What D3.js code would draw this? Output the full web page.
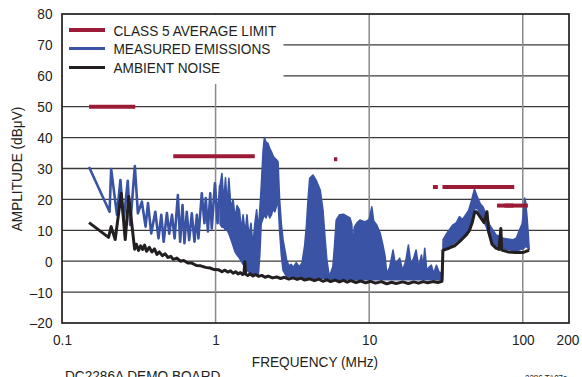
<!DOCTYPE html>
<html><head><meta charset="utf-8">
<script src="https://cdn.jsdelivr.net/npm/d3@7"></script>
<style>
html,body{margin:0;padding:0;background:#fff;}
svg{display:block;}
text{font-family:"Liberation Sans",Arial,sans-serif;fill:#231f20;}
</style></head><body>
<svg id="c" width="582" height="377"></svg>
<script>
// ---------- data ----------
const xTicks = [0.1, 1, 10, 100, 200];
const yTicks = [-20, -10, 0, 10, 20, 30, 40, 50, 60, 70, 80];
const xGrid = [1, 10, 100];
const legendLabels = ["CLASS 5 AVERAGE LIMIT", "MEASURED EMISSIONS", "AMBIENT NOISE"];

// Class 5 average limit segments (MHz, dBµV)
const limitStart = [0.15, 0.53, 5.9, 26, 30, 41, 68, 76];
const limitEnd   = [0.3, 1.8, 6.2, 28, 54, 88, 87, 108];
const limitVal   = [50, 34, 33, 24, 24, 24, 18, 18];

// Measured emissions, low-frequency trace (MHz, dBµV)
const emisLowFreq = [0.15,0.204,0.209,0.228,0.24,0.252,0.268,0.278,0.298,0.312,0.331,0.35,0.363,0.381,0.405,0.425,0.443,0.459,0.482,0.499,0.52,0.541,0.568,0.588,0.609,0.627,0.649,0.673,0.70,0.729,0.755,0.773,0.813,0.846,0.863,0.891,0.923,0.944,0.99,1.03,1.07];
const emisLowVal  = [30.5,16,29.8,15,26.3,13.3,26,11.7,30.8,15.5,19.3,11.2,18.8,9,16,7.4,15,6.3,15.6,8.9,15,7.4,21.4,6.3,18.2,5.8,16,6.8,15.5,6.3,15,7.4,22,12.3,20.4,9.6,22,10.6,25.2,12.3,24.6];

// Measured emissions, dense band above 1 MHz: frequency, upper and lower envelope
const bandFreq = [1.07,1.10,1.13,1.16,1.19,1.22,1.26,1.30,1.34,1.38,1.43,1.47,1.51,1.56,1.60,1.65,1.70,1.75,1.80,1.85,1.90,1.94,1.98,2.04,2.08,2.13,2.19,2.25,2.31,2.37,2.43,2.50,2.55,2.61,2.68,2.75,2.90,3.0,3.1,3.2,3.35,3.5,3.65,3.8,3.9,4.0,4.1,4.3,4.5,4.8,5.0,5.15,5.3,5.5,5.8,5.95,6.1,6.4,6.8,7.2,7.5,7.7,7.85,8.0,8.3,8.7,9.4,10,10.4,10.7,11.2,11.8,12.3,12.7,13.0,13.6,14.3,14.8,15.8,16.5,17.3,18.0,18.7,19.5,20.2,21,21.9,22.4,23,23.7,24.5,25.4,26.3,27.4,28.5,30.0,30.3,32,35,37,38.7,40.5,42.5,44.5,46.5,48.5,50.9,53,55,58,60.8,64,67,71,74.6,80,86,91,95,99,101,103,104.5,106.5,108.5,110];
const bandHi   = [24.6,28.4,19,27,18,26.8,17,20,14,18,16.6,10,15,9,15,8,12.3,5,12,16.6,10,16.6,23.6,36,40,38.5,38.2,36.5,35.4,34,33.3,32.8,32.2,20,12,6.9,0.4,-1.5,-1,-2,-0.5,-1.8,-0.7,5,11.2,20,26.8,27.9,26.3,23,16.6,8,0.4,-5,-1.8,5,13.3,15,15.2,14.5,14,12,4,11,12.3,13.3,12.7,13.5,17.6,13,11.7,9,5,1.5,-4,-2,3.6,-1,1,-3,0,5.2,-1,1,3.6,-2,2,-2,4.2,-3,-2,-1.3,-4,-1.3,-3.5,-4,7,9,11.7,12.5,14.4,13.5,15,16.5,19.8,23.3,20.4,18.5,17.6,15,11.7,10,8.5,8,7.4,7.2,6.9,7.5,10,12,15.5,20.4,19,14.4,9,4];
const bandLo   = [12,11,11,10,10,9,7,5,3,2,1,0,-1,-2,-3,-3.5,-4,-4,-4,-4.2,-4.3,2,12,14,15,14,16,14,15,17,16,18,20,10,2,-3,-5,-5,-5.2,-5.3,-5.4,-5.4,-5.5,-5.5,-5.5,-5.5,-5.5,-5.5,-5.5,-5.5,-5.5,-5.6,-5.6,-5.8,-5.8,-5.8,-5.8,-5.9,-5.9,-6,-6,-6,-6,-6,-6,-6,-6,-6,-6,-6,-6,-6,-6,-6,-6,-6,-6,-6,-6,-6,-6,-6,-6,-6,-6,-6,-6,-6,-6,-6,-6,-6,-6,-6,-6,-6,4,4.5,5.5,6.5,7,8,9,10.5,13,17,17,15,13.5,11,8,6,5,4.5,4,3.8,3.5,3.5,3.6,4,4,4.5,5,4.5,4.2,3.8];

// Ambient noise (MHz, dBµV)
const ambFreq = [0.15,0.201,0.209,0.222,0.243,0.258,0.272,0.297,0.305,0.315,0.325,0.335,0.345,0.355,0.37,0.385,0.40,0.415,0.43,0.45,0.47,0.49,0.51,0.53,0.56,0.59,0.62,0.66,0.70,0.75,0.80,0.86,0.92,0.98,1.05,1.1,1.15,1.2,1.25,1.3,1.35,1.4,1.45,1.5,1.53,1.55,1.57,1.62,1.68,1.75,1.82,1.9,2.0,2.1,2.2,2.35,2.5,2.65,2.8,3.0,3.2,3.4,3.6,3.8,4.1,4.4,4.7,5.0,5.3,5.6,6.0,6.4,6.8,7.2,7.6,8.2,8.8,9.5,10.2,11,12,13,14,15,16.5,18,19.5,21,22.5,24,26,28,29.8,30.2,33,36,40,43,45,47,48.7,50,53,56,58.5,60,63,67,70,72,73,80,90,100,105,110];
const ambVal  = [12.5,7.7,11.2,7,22,7,20.9,3.9,5.5,3.5,5,3.8,5.2,3.2,4.5,3,4,2.2,3,1.8,2.4,1.2,1.6,0.6,1,0,0.2,-0.6,-0.6,-1.4,-1.5,-2,-2.2,-2.7,-2.8,-3.4,-2.9,-3.5,-3.1,-3.9,-3.4,-4.1,-3.7,-4.3,-4,-0.2,-4.2,-4.6,-4.1,-4.8,-4.3,-4.9,-4.6,-5.2,-4.8,-5.4,-5.1,-5.6,-5.2,-5.8,-5.4,-5.9,-5.5,-6.1,-5.7,-6.3,-5.8,-6.5,-6.0,-6.6,-6.1,-6.7,-6.2,-6.8,-6.3,-6.9,-6.4,-7,-6.5,-7.1,-6.6,-7.3,-6.8,-7.2,-6.7,-7.2,-6.7,-7.1,-6.6,-7,-6.6,-6.9,-6.5,3.5,4.2,5,7,8.6,10,12.7,16,16,14.2,12.5,16,9.5,5.5,4.2,3.8,10.6,3.6,3,2.8,2.8,3.2,3.5];

// ---------- chart ----------
const RED = "#9b1b36", BLUE = "#3a53a4", BLACK = "#231f20";
const FONT = 15.5, SQUEEZE = 0.88;
const svg = d3.select("#c");
svg.append("rect").attr("width", 582).attr("height", 377).attr("fill", "#fff");

const x = d3.scaleLog().domain([0.1, 200]).range([62, 569]);
const y = d3.scaleLinear().domain([-20, 80]).range([323, 14]);

// grid
svg.append("g").selectAll("line").data(yTicks.slice(1, -1)).join("line")
  .attr("x1", 62).attr("x2", 569).attr("y1", d => y(d)).attr("y2", d => y(d))
  .attr("stroke", "#3a3a3a").attr("stroke-width", 1.3);
svg.append("g").selectAll("line").data(xGrid).join("line")
  .attr("x1", d => x(d)).attr("x2", d => x(d)).attr("y1", 14).attr("y2", 323)
  .attr("stroke", "#8a8a8a").attr("stroke-width", 1.5);

// legend background
svg.append("rect").attr("x", 63).attr("y", 15).attr("width", 220.5).attr("height", 69).attr("fill", "#fff");

// data
svg.append("clipPath").attr("id", "clip").append("rect").attr("x", 62).attr("y", 14).attr("width", 507).attr("height", 309);
const plot = svg.append("g").attr("clip-path", "url(#clip)");

const band = bandFreq.map((f, i) => ({f, hi: bandHi[i], lo: bandLo[i]}));
plot.append("path").datum(band)
  .attr("d", d3.area().x(d => x(d.f)).y0(d => y(d.lo)).y1(d => y(d.hi)))
  .attr("fill", BLUE).attr("stroke", BLUE).attr("stroke-width", 1.6).attr("stroke-linejoin", "round");

const emisLow = emisLowFreq.map((f, i) => [f, emisLowVal[i]]);
plot.append("path").datum(emisLow)
  .attr("d", d3.line().x(d => x(d[0])).y(d => y(d[1])))
  .attr("fill", "none").attr("stroke", BLUE).attr("stroke-width", 2.6).attr("stroke-linejoin", "round");

const amb = ambFreq.map((f, i) => [f, ambVal[i]]);
plot.append("path").datum(amb)
  .attr("d", d3.line().x(d => x(d[0])).y(d => y(d[1])))
  .attr("fill", "none").attr("stroke", BLACK).attr("stroke-width", 3).attr("stroke-linejoin", "round");

// limits
plot.append("g").selectAll("line").data(limitVal).join("line")
  .attr("x1", (d, i) => x(limitStart[i])).attr("x2", (d, i) => x(limitEnd[i]))
  .attr("y1", d => y(d)).attr("y2", d => y(d))
  .attr("stroke", RED).attr("stroke-width", 4);

// border
svg.append("rect").attr("x", 62).attr("y", 14).attr("width", 507).attr("height", 309)
  .attr("fill", "none").attr("stroke", BLACK).attr("stroke-width", 1.7);

// axes labels
const xAxis = svg.append("g").attr("transform", "translate(0,323)")
  .call(d3.axisBottom(x).tickValues(xTicks).tickFormat(d => String(d)).tickSize(0).tickPadding(11));
const yAxis = svg.append("g").attr("transform", "translate(62,0)")
  .call(d3.axisLeft(y).tickValues(yTicks).tickFormat(d => d < 0 ? "\u2013" + Math.abs(d) : String(d)).tickSize(0).tickPadding(9.5));
[xAxis, yAxis].forEach(g => {
  g.select(".domain").remove();
  g.selectAll("text").attr("font-size", FONT).attr("fill", BLACK)
    .style("font-family", '"Liberation Sans",Arial,sans-serif');
});
// keep the last x label just inside the frame, as in the reference
xAxis.selectAll(".tick text").filter(d => d === 200).attr("dx", "-1.5");

svg.append("text").attr("x", 315).attr("y", 366.5).attr("text-anchor", "middle")
  .attr("font-size", FONT).text("FREQUENCY (MHz)");
svg.append("text").attr("transform", "translate(21.5,169) rotate(-90)").attr("text-anchor", "middle")
  .attr("font-size", FONT).text("AMPLITUDE (dB\u03bcV)");
svg.append("text").attr("x", 65).attr("y", 380.5).attr("font-size", FONT).text("DC2286A DEMO BOARD");
svg.append("text").attr("x", 525).attr("y", 381.4).attr("font-size", 9).text("2286 TA07a");

// legend
const legColors = [RED, BLUE, BLACK];
const legWidths = [4, 3, 3];
const legY = [30, 48.5, 67.5];
const leg = svg.append("g");
legendLabels.forEach((t, i) => {
  leg.append("line").attr("x1", 69).attr("x2", 105).attr("y1", legY[i]).attr("y2", legY[i])
    .attr("stroke", legColors[i]).attr("stroke-width", legWidths[i]);
  leg.append("text").attr("x", 113.5).attr("y", legY[i] + 5.6).attr("font-size", FONT).text(t);
});

// condensed look (reference uses a narrow face)
svg.selectAll("text").each(function () {
  const w = this.getComputedTextLength();
  d3.select(this).attr("textLength", w * SQUEEZE).attr("lengthAdjust", "spacingAndGlyphs");
});
</script></body></html>
